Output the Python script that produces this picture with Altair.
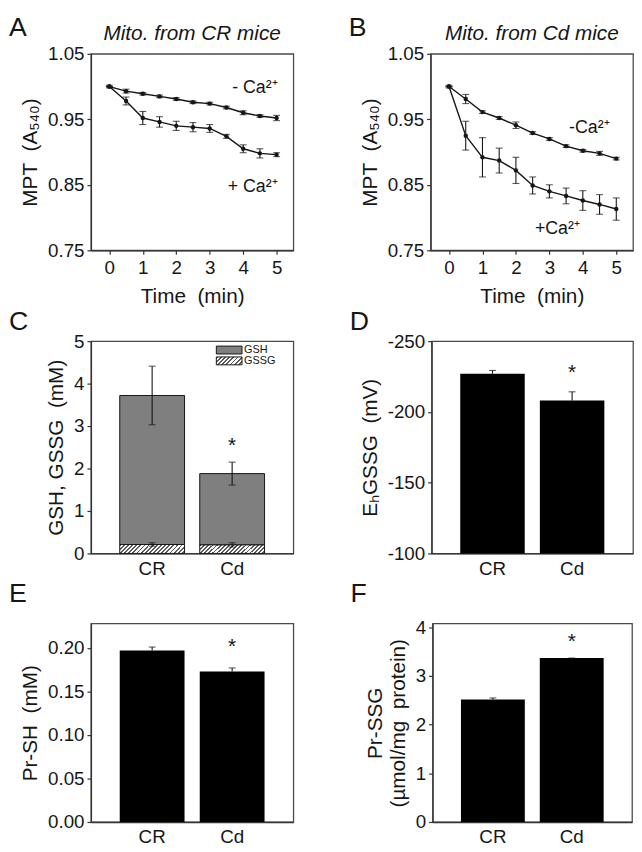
import altair as alt
import pandas as pd

FONT = "Liberation Sans"
INK = "#161616"

# ---------------- data ----------------
time_min = [0, 0.5, 1, 1.5, 2, 2.5, 3, 3.5, 4, 4.5, 5]
series_names = ["-Ca", "+Ca"]

a_minus = [1.000, 0.993, 0.989, 0.985, 0.981, 0.976, 0.974, 0.968, 0.960, 0.955, 0.952]
a_minus_err = [0.002, 0.003, 0.002, 0.002, 0.002, 0.002, 0.002, 0.002, 0.003, 0.002, 0.004]
a_plus = [1.000, 0.978, 0.952, 0.946, 0.940, 0.938, 0.936, 0.924, 0.905, 0.898, 0.896]
a_plus_err = [0.000, 0.006, 0.010, 0.008, 0.007, 0.007, 0.006, 0.003, 0.006, 0.007, 0.003]

b_minus = [1.000, 0.981, 0.961, 0.952, 0.941, 0.929, 0.920, 0.909, 0.902, 0.898, 0.890]
b_minus_err = [0.002, 0.007, 0.002, 0.002, 0.005, 0.002, 0.002, 0.002, 0.002, 0.003, 0.002]
b_plus = [1.000, 0.925, 0.892, 0.887, 0.872, 0.849, 0.840, 0.833, 0.826, 0.820, 0.813]
b_plus_err = [0.000, 0.022, 0.030, 0.019, 0.020, 0.013, 0.010, 0.012, 0.015, 0.015, 0.017]

groups = ["CR", "Cd"]
gsh = [3.51, 1.68]
gsh_err = [0.69, 0.27]
gssg = [0.21, 0.20]
gssg_err = [0.04, 0.05]
eh_gssg = [-227.0, -208.0]
eh_gssg_err = [2.3, 6.2]
pr_sh = [0.197, 0.173]
pr_sh_err = [0.004, 0.004]
pr_ssg = [2.52, 3.37]
pr_ssg_err = [0.03, 0.0]

panel_letters = ["A", "B", "C", "D", "E", "F"]
legend_names = ["GSH", "GSSG"]

# ---------------- layout ----------------
W_L = 205
W_B, W_D, W_F = 205, 204, 202
H1, H2, H3 = 199, 215, 201
ROW_SPACING = 0
LETTER_UP = [39, 32, 43]
LETTER_LEFT = 83


def hatch(w, h, period=4.2, frac=0.45, ink="#5a5a5a"):
    r = h / w
    a = (w + h) / w
    denom = (w + h) * (1 + r * r)
    stops = []
    s = 0.0
    while s / denom < 1:
        o0 = min(s / denom, 1)
        o1 = min((s + period * frac) / denom, 1)
        o2 = min((s + period) / denom, 1)
        stops += [alt.GradientStop(offset=o0, color=ink), alt.GradientStop(offset=o1, color=ink),
                  alt.GradientStop(offset=o1, color="white"), alt.GradientStop(offset=o2, color="white")]
        s += period
    return alt.Gradient(gradient="linear", x1=0, y1=0, x2=a, y2=a * r, stops=stops)


def letter_layer(letter, up):
    return alt.Chart(pd.DataFrame({"letter": [letter]})).mark_text(
        align="left", baseline="top", font=FONT, fontSize=27, color=INK
    ).encode(x=alt.value(-LETTER_LEFT), y=alt.value(-up), text="letter:N")


def mpt_panel(idx, title, minus, minus_err, plus, plus_err, plus_color, ann, width):
    n = len(time_min)
    df = pd.DataFrame({
        "time": time_min * 2,
        "mpt": minus + plus,
        "err": minus_err + plus_err,
        "series": [series_names[0]] * n + [series_names[1]] * n,
    })
    xs = alt.Scale(domain=[-0.55, 5.5], nice=False, zero=False)
    ys = alt.Scale(domain=[0.75, 1.05], nice=False, zero=False)
    xa = alt.Axis(title="Time\u00a0\u00a0(min)", values=time_min,
                  labelExpr="datum.value % 1 == 0 ? '' + datum.value : ''",
                  tickSize={"condition": {"test": "datum.value % 1 != 0", "value": 2}, "value": 4},
                  labelPadding=4, titlePadding=9)
    ya = alt.Axis(title="MPT\u00a0\u00a0(A\u2085\u2084\u2080)", values=[0.75, 0.8, 0.85, 0.9, 0.95, 1.0, 1.05],
                  labelExpr="round(datum.value*20) % 2 == 1 ? format(datum.value, '.2f') : ''",
                  tickSize={"condition": {"test": "round(datum.value*20) % 2 == 0", "value": 2}, "value": 4},
                  labelPadding=3, titlePadding=7)

    def X(f):
        return alt.X(f, type="quantitative", scale=xs, axis=xa)

    def Y(f):
        return alt.Y(f, type="quantitative", scale=ys, axis=ya)

    color = alt.Color("series:N", scale=alt.Scale(domain=series_names, range=[INK, plus_color]), legend=None)
    base = alt.Chart(df).transform_calculate(lo="datum.mpt - datum.err", hi="datum.mpt + datum.err")
    line = base.mark_line(strokeWidth=1.4).encode(x=X("time"), y=Y("mpt"), color=color)
    rule = base.mark_rule(strokeWidth=1.1, color=INK).encode(x=X("time"), y=Y("lo"), y2="hi:Q")
    cap_lo = base.mark_tick(orient="horizontal", size=7, thickness=1.1, color=INK).encode(x=X("time"), y=Y("lo"))
    cap_hi = base.mark_tick(orient="horizontal", size=7, thickness=1.1, color=INK).encode(x=X("time"), y=Y("hi"))
    pts = base.mark_circle(size=20, opacity=1).encode(x=X("time"), y=Y("mpt"), color=color)

    layers = [line, rule, cap_lo, cap_hi, pts]
    for text, tx, ty, al in ann:
        layers.append(alt.Chart(pd.DataFrame({"t": [text]})).mark_text(
            align=al, baseline="middle", font=FONT, fontSize=18, color=INK
        ).encode(x=alt.datum(tx), y=alt.datum(ty), text="t:N"))
    layers.append(alt.Chart(pd.DataFrame({"t": [title]})).mark_text(
        align="center", baseline="alphabetic", font=FONT, fontSize=21, fontStyle="italic", color=INK
    ).encode(x=alt.value(width / 2), y=alt.value(-14), text="t:N"))
    layers.append(letter_layer(panel_letters[idx], LETTER_UP[0]))
    return alt.layer(*layers).properties(width=width, height=H1)


def band_x():
    return alt.X("group:N", sort=groups,
                 scale=alt.Scale(domain=groups, paddingInner=0.19, paddingOuter=0.36),
                 axis=alt.Axis(title=None, labelAngle=0, ticks=False, labelPadding=6))


def star_layer(y_enc):
    return alt.Chart(pd.DataFrame({"group": [groups[1]], "s": ["*"]})).mark_text(
        font=FONT, fontSize=21, baseline="middle", dy=1, color=INK
    ).encode(x=band_x(), y=y_enc, text="s:N")


# ---- C ----
dfc = pd.DataFrame({"group": groups, "gsh": gsh, "gsh_err": gsh_err, "gssg": gssg, "gssg_err": gssg_err})
ysc = alt.Scale(domain=[0, 5], nice=False)
yac = alt.Axis(title="GSH, GSSG\u00a0\u00a0(mM)", values=[0, 1, 2, 3, 4, 5], tickSize=4, labelPadding=3, titlePadding=7)


def YC(f):
    return alt.Y(f, type="quantitative", scale=ysc, axis=yac)


basec = alt.Chart(dfc).transform_calculate(
    total="datum.gsh + datum.gssg",
    tlo="datum.gsh + datum.gssg - datum.gsh_err",
    thi="datum.gsh + datum.gssg + datum.gsh_err",
    glo="datum.gssg - datum.gssg_err",
    ghi="datum.gssg + datum.gssg_err",
)
c_layers = [
    basec.mark_bar(fill="#7f7f7f", stroke=INK, strokeWidth=1).encode(x=band_x(), y=YC("gssg"), y2="total:Q"),
    basec.mark_bar(fill=hatch(66, 9), stroke=INK, strokeWidth=1).encode(x=band_x(), y=YC("gssg")),
    basec.mark_rule(color=INK, strokeWidth=1.1).encode(x=band_x(), y=YC("tlo"), y2="thi:Q"),
    basec.mark_tick(orient="horizontal", size=7, thickness=1.1, color=INK).encode(x=band_x(), y=YC("tlo")),
    basec.mark_tick(orient="horizontal", size=7, thickness=1.1, color=INK).encode(x=band_x(), y=YC("thi")),
    basec.mark_rule(color=INK, strokeWidth=1.1).encode(x=band_x(), y=YC("glo"), y2="ghi:Q"),
    basec.mark_tick(orient="horizontal", size=7, thickness=1.1, color=INK).encode(x=band_x(), y=YC("glo")),
    basec.mark_tick(orient="horizontal", size=7, thickness=1.1, color=INK).encode(x=band_x(), y=YC("ghi")),
    star_layer(alt.datum(2.56)),
]
leg = pd.DataFrame({"name": legend_names})
c_layers += [
    alt.Chart(leg.iloc[[0]]).mark_rect(fill="#7f7f7f", stroke=INK, strokeWidth=1).encode(
        x=alt.value(127), x2=alt.value(153), y=alt.value(5), y2=alt.value(13)),
    alt.Chart(leg.iloc[[1]]).mark_rect(fill=hatch(26, 8), stroke=INK, strokeWidth=1).encode(
        x=alt.value(127), x2=alt.value(153), y=alt.value(16), y2=alt.value(24)),
    alt.Chart(leg.iloc[[0]]).mark_text(align="left", baseline="middle", font=FONT, fontSize=11, color=INK).encode(
        x=alt.value(155), y=alt.value(9.5), text="name:N"),
    alt.Chart(leg.iloc[[1]]).mark_text(align="left", baseline="middle", font=FONT, fontSize=11, color=INK).encode(
        x=alt.value(155), y=alt.value(20.5), text="name:N"),
    letter_layer(panel_letters[2], LETTER_UP[1]),
]
panel_c = alt.layer(*c_layers).properties(width=W_L, height=H2)

# ---- D ----
dfd = pd.DataFrame({"group": groups, "v": eh_gssg, "e": eh_gssg_err})
ysd = alt.Scale(domain=[-250, -100], reverse=True, nice=False, zero=False)
yad = alt.Axis(title="E\u2095GSSG\u00a0\u00a0(mV)", values=[-250, -225, -200, -175, -150, -125, -100],
               labelExpr="datum.value % 50 == 0 ? '' + datum.value : ''",
               tickSize={"condition": {"test": "datum.value % 50 != 0", "value": 2}, "value": 4},
               labelPadding=3, titlePadding=7)


def YD(f):
    return alt.Y(f, type="quantitative", scale=ysd, axis=yad)


based = alt.Chart(dfd).transform_calculate(hi="datum.v - datum.e")
panel_d = alt.layer(
    based.mark_bar(fill="black").encode(x=band_x(), y=YD("v"), y2=alt.datum(-100)),
    based.mark_rule(color=INK, strokeWidth=1.1).encode(x=band_x(), y=YD("v"), y2="hi:Q"),
    based.mark_tick(orient="horizontal", size=7, thickness=1.1, color=INK).encode(x=band_x(), y=YD("hi")),
    star_layer(alt.datum(-228)),
    letter_layer(panel_letters[3], LETTER_UP[1]),
).properties(width=W_D, height=H2)

# ---- E ----
dfe = pd.DataFrame({"group": groups, "v": pr_sh, "e": pr_sh_err})
yse = alt.Scale(domain=[0, 0.228], nice=False, zero=False)
yae = alt.Axis(title="Pr-SH\u00a0\u00a0(mM)", values=[0, 0.025, 0.05, 0.075, 0.1, 0.125, 0.15, 0.175, 0.2],
               labelExpr="round(datum.value*40) % 2 == 0 ? format(datum.value, '.2f') : ''",
               tickSize={"condition": {"test": "round(datum.value*40) % 2 == 1", "value": 2}, "value": 4},
               labelPadding=3, titlePadding=7)


def YE(f):
    return alt.Y(f, type="quantitative", scale=yse, axis=yae)


basee = alt.Chart(dfe).transform_calculate(hi="datum.v + datum.e")
panel_e = alt.layer(
    basee.mark_bar(fill="black").encode(x=band_x(), y=YE("v")),
    basee.mark_rule(color=INK, strokeWidth=1.1).encode(x=band_x(), y=YE("v"), y2="hi:Q"),
    basee.mark_tick(orient="horizontal", size=7, thickness=1.1, color=INK).encode(x=band_x(), y=YE("hi")),
    star_layer(alt.datum(0.202)),
    letter_layer(panel_letters[4], LETTER_UP[2]),
).properties(width=W_L, height=H3)

# ---- F ----
dff = pd.DataFrame({"group": groups, "v": pr_ssg, "e": pr_ssg_err})
ysf = alt.Scale(domain=[0, 4.08], nice=False, zero=False)
yaf = alt.Axis(title=["Pr-SSG", "(\u00b5mol/mg\u00a0\u00a0protein)"], values=[0, 0.5, 1, 1.5, 2, 2.5, 3, 3.5, 4],
               labelExpr="datum.value % 1 == 0 ? '' + datum.value : ''",
               tickSize={"condition": {"test": "datum.value % 1 != 0", "value": 2}, "value": 4},
               labelPadding=3, titlePadding=7)


def YF(f):
    return alt.Y(f, type="quantitative", scale=ysf, axis=yaf)


basef = alt.Chart(dff).transform_calculate(hi="datum.v + datum.e")
panel_f = alt.layer(
    basef.mark_bar(fill="black").encode(x=band_x(), y=YF("v")),
    basef.mark_rule(color=INK, strokeWidth=1.1).encode(x=band_x(), y=YF("v"), y2="hi:Q"),
    basef.mark_tick(orient="horizontal", size=7, thickness=1.1, color=INK).encode(x=band_x(), y=YF("hi")),
    star_layer(alt.datum(3.71)),
    letter_layer(panel_letters[5], LETTER_UP[2]),
).properties(width=W_F, height=H3)

# ---- A, B ----
panel_a = mpt_panel(0, "Mito. from CR mice", a_minus, a_minus_err, a_plus, a_plus_err, INK,
                    [("- Ca\u00b2\u207a", 5.03, 0.997, "right"), ("+ Ca\u00b2\u207a", 5.03, 0.847, "right")], W_L)
panel_b = mpt_panel(1, "Mito. from Cd mice", b_minus, b_minus_err, b_plus, b_plus_err, "#8a8a8a",
                    [("-Ca\u00b2\u207a", 4.8, 0.937, "right"), ("+Ca\u00b2\u207a", 3.24, 0.783, "center")], W_B)

row1 = alt.hconcat(panel_a, panel_b, spacing=139, bounds="flush")
row2 = alt.hconcat(panel_c, panel_d, spacing=140, bounds="flush")
row3 = alt.hconcat(panel_e, panel_f, spacing=141, bounds="flush")

chart = alt.vconcat(row1, row2, row3, spacing=ROW_SPACING).properties(padding=0).configure_view(
    stroke="#4a4a4a", strokeWidth=1.3
).configure_axis(
    labelFont=FONT, titleFont=FONT, labelFontSize=19, titleFontSize=21, titleFontWeight="normal",
    labelColor=INK, titleColor=INK, domainColor="#333333", domainWidth=1.3,
    tickColor="#333333", tickWidth=1.2, grid=False, labelFlush=False, labelOverlap=False,
)

chart.save("out.html", embed_options={"renderer": "svg", "actions": False})
